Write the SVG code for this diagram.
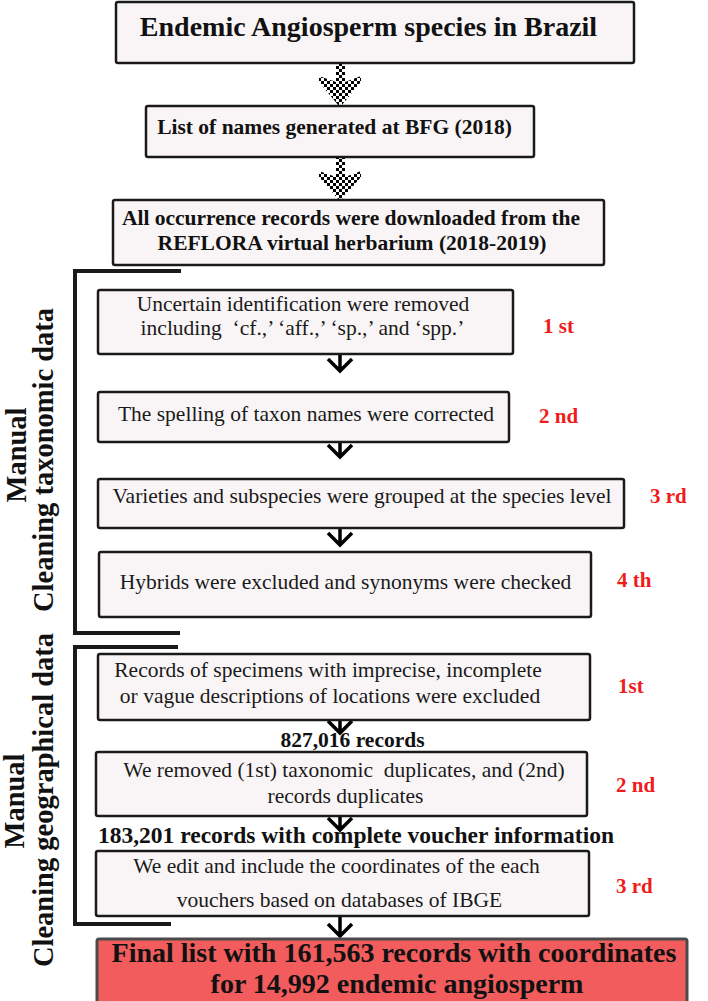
<svg xmlns="http://www.w3.org/2000/svg" width="708" height="1001" viewBox="0 0 708 1001">
<style>
.box{fill:#f9f5f6;stroke:#1a1a1a;stroke-width:2.5}
.tb{font-family:"Liberation Serif","Times New Roman",serif;font-weight:bold;fill:#111;text-anchor:middle}
.tr{font-family:"Liberation Serif","Times New Roman",serif;font-size:21.5px;fill:#1a1a1a;text-anchor:middle;white-space:pre}
.red{font-family:"Liberation Serif","Times New Roman",serif;font-weight:bold;font-size:21px;fill:#f01c1c}
.br{fill:none;stroke:#1a1a1a;stroke-width:4}
.chev{fill:none;stroke:#000;stroke-width:3.5}
.vt{font-family:"Liberation Serif","Times New Roman",serif;font-weight:bold;font-size:28.5px;fill:#111;text-anchor:middle}
</style>
<defs>
<pattern id="chk" width="6" height="6" patternUnits="userSpaceOnUse">
<rect x="0" y="0" width="3" height="3" fill="#000"/>
<rect x="3" y="3" width="3" height="3" fill="#000"/>
</pattern>
</defs>

<g id="brackets">
<path class="br" d="M181,271 H75 V633 H180"/>
<path class="br" d="M178,647 H75 V924 H171"/>
</g>

<g id="side-labels">
<text class="vt" transform="translate(26,455) rotate(-90)">Manual</text>
<text class="vt" transform="translate(53,460) rotate(-90)">Cleaning taxonomic data</text>
<text class="vt" transform="translate(24,801) rotate(-90)">Manual</text>
<text class="vt" transform="translate(53,800) rotate(-90)">Cleaning geographical data</text>
</g>

<g id="connectors">
<polygon fill="url(#chk)" points="336,63 345,63 345,82 361,76 361,82 341,106 339,106 319,82 319,76 336,82"/>
<polygon fill="url(#chk)" points="336,158 345,158 345,177 361,171 361,177 341,200 339,200 319,177 319,171 336,177"/>
<path class="chev" d="M340,354 V371 M328,359 L340,371 L352,359"/>
<path class="chev" d="M340,443 V457 M328,445 L340,457 L352,445"/>
<path class="chev" d="M340,529 V545 M328,533 L340,545 L352,533"/>
<path class="chev" d="M340,720 V733 M328,721 L340,733 L352,721"/>
<path class="chev" d="M340,816 V830 M328,818 L340,830 L352,818"/>
<path class="chev" d="M340,916 V936 M328,924 L340,936 L352,924"/>
</g>

<g id="n-title">
<rect class="box" x="116" y="2" width="518" height="61" rx="2"/>
<text class="tb" x="368.5" y="36" font-size="28">Endemic Angiosperm species in Brazil</text>
</g>
<g id="n-list">
<rect class="box" x="146" y="106" width="388" height="51" rx="2"/>
<text class="tb" x="334.5" y="134" font-size="21.5">List of names generated at BFG (2018)</text>
</g>
<g id="n-download">
<rect class="box" x="113" y="200" width="491" height="65" rx="2"/>
<text class="tb" x="351" y="225" font-size="21.5">All occurrence records were downloaded from the</text>
<text class="tb" x="352" y="250" font-size="21.5">REFLORA virtual herbarium (2018-2019)</text>
</g>

<g id="n-tax1">
<rect class="box" x="98" y="290" width="415" height="64" rx="2"/>
<text class="tr" x="303" y="311">Uncertain identification were removed</text>
<text class="tr" x="302.5" y="335">including  ‘cf.,’ ‘aff.,’ ‘sp.,’ and ‘spp.’</text>
<text class="red" x="543" y="333">1 st</text>
</g>
<g id="n-tax2">
<rect class="box" x="98" y="392" width="411" height="50" rx="2"/>
<text class="tr" x="306" y="421">The spelling of taxon names were corrected</text>
<text class="red" x="539" y="423">2 nd</text>
</g>
<g id="n-tax3">
<rect class="box" x="98" y="479" width="526" height="49" rx="2"/>
<text class="tr" x="362" y="503">Varieties and subspecies were grouped at the species level</text>
<text class="red" x="650" y="503">3 rd</text>
</g>
<g id="n-tax4">
<rect class="box" x="99" y="552" width="492" height="65" rx="2"/>
<text class="tr" x="345.5" y="589">Hybrids were excluded and synonyms were checked</text>
<text class="red" x="617" y="587">4 th</text>
</g>

<g id="n-geo1">
<rect class="box" x="98" y="654" width="492" height="66" rx="2"/>
<text class="tr" x="328" y="677">Records of specimens with imprecise, incomplete</text>
<text class="tr" x="330" y="703">or vague descriptions of locations were excluded</text>
<text class="red" x="618" y="693">1st</text>
</g>
<g id="n-count1">
<text class="tb" x="352.5" y="747" font-size="21.5">827,016 records</text>
</g>
<g id="n-geo2">
<rect class="box" x="96" y="752" width="491" height="64" rx="2"/>
<text class="tr" x="344" y="777">We removed (1st) taxonomic  duplicates, and (2nd)</text>
<text class="tr" x="345.5" y="803">records duplicates</text>
<text class="red" x="616" y="792">2 nd</text>
</g>
<g id="n-count2">
<text class="tb" x="356" y="843" font-size="23.5">183,201 records with complete voucher information</text>
</g>
<g id="n-geo3">
<rect class="box" x="96" y="851" width="493" height="65" rx="2"/>
<text class="tr" x="336.5" y="873">We edit and include the coordinates of the each</text>
<text class="tr" x="339.5" y="907">vouchers based on databases of IBGE</text>
<text class="red" x="616" y="893">3 rd</text>
</g>

<g id="n-final">
<rect x="97" y="939" width="590" height="80" rx="2" fill="#f25c5c" stroke="#4a4a4a" stroke-width="3"/>
<text class="tb" x="394" y="962" font-size="28">Final list with 161,563 records with coordinates</text>
<text class="tb" x="397" y="993" font-size="28">for 14,992 endemic angiosperm</text>
</g>
</svg>
